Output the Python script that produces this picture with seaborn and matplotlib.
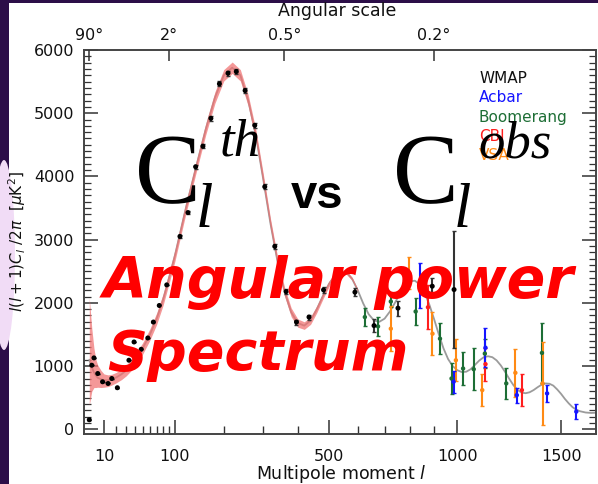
import numpy as np
import pandas as pd
import matplotlib
matplotlib.use("Agg")
import matplotlib.pyplot as plt
import seaborn as sns
from matplotlib.patches import Rectangle, Ellipse

# ---------------- data ----------------
theory_l = [2, 3, 4, 5, 6, 8, 10, 13, 16, 20, 25, 30, 40, 50, 60, 70, 80, 90, 100, 120, 140, 160,
            180, 200, 220, 240, 260, 280, 300, 320, 340, 360, 380, 400, 420, 440, 460, 480, 500,
            520, 540, 560, 580, 600, 620, 640, 660, 680, 700, 720, 740, 760, 780, 800, 820, 840,
            860, 880, 900, 920, 940, 960, 980, 1000, 1020, 1040, 1060, 1080, 1100, 1120, 1140,
            1160, 1180, 1200, 1220, 1240, 1260, 1280, 1300, 1320, 1340, 1360, 1380, 1400, 1420,
            1440, 1460, 1480, 1500, 1520, 1540, 1560, 1580, 1600, 1630, 1660, 1690]
theory_D = [1100, 980, 900, 850, 815, 790, 775, 775, 790, 820, 870, 930, 1080, 1280, 1500, 1750,
            2050, 2400, 2750, 3500, 4150, 4750, 5250, 5600, 5720, 5600, 5200, 4650, 3950, 3250,
            2650, 2180, 1850, 1680, 1640, 1720, 1900, 2110, 2300, 2430, 2490, 2480, 2380, 2200,
            1990, 1820, 1720, 1700, 1750, 1860, 2000, 2150, 2270, 2340, 2350, 2290, 2160, 1970,
            1740, 1500, 1280, 1110, 1000, 935, 905, 910, 950, 1020, 1090, 1140, 1155, 1140, 1090,
            1010, 910, 800, 700, 625, 580, 570, 585, 620, 665, 705, 725, 720, 690, 630, 560, 480,
            410, 350, 310, 285, 265, 258, 262]

band_l = [2, 3, 4, 5, 6, 8, 10, 13, 16, 20, 25, 30, 40, 50, 60, 70, 80, 90, 100, 120, 140, 160, 180,
          200, 220, 240, 260, 280, 300, 320, 340, 360, 380, 400, 420, 440, 460, 480, 500, 520, 540,
          560, 580, 600]
band_hi = [2080, 1600, 1280, 1100, 1015, 930, 875, 860, 870, 900, 955, 1015, 1170, 1370, 1590, 1840,
           2140, 2490, 2840, 3590, 4240, 4840, 5340, 5690, 5810, 5690, 5290, 4740, 4040, 3330, 2730,
           2250, 1920, 1745, 1700, 1780, 1955, 2160, 2345, 2470, 2525, 2510, 2405, 2220]
band_lo = [380, 600, 660, 660, 665, 660, 665, 675, 700, 735, 785, 845, 990, 1190, 1410, 1660, 1960,
           2310, 2660, 3410, 4060, 4660, 5160, 5510, 5630, 5510, 5110, 4560, 3860, 3170, 2570, 2110,
           1780, 1615, 1580, 1660, 1845, 2060, 2255, 2390, 2455, 2450, 2355, 2180]

wmap_l = [2, 3, 4, 6, 9, 13, 16, 21, 26, 33, 39, 48, 57, 65, 74, 86, 109, 124, 139, 154, 171, 190,
          210, 230, 252, 277, 304, 332, 365, 396, 435, 482, 590, 660, 752, 892, 986]
wmap_D = [150, 1013, 1129, 882, 751, 724, 803, 657, 972, 1092, 1381, 1265, 1444, 1696, 1958, 2284,
          3051, 3428, 4153, 4478, 4919, 5465, 5634, 5659, 5359, 4808, 3837, 2893, 2178, 1696, 1775,
          2205, 2169, 1640, 1916, 2263, 2210]
wmap_err = [0, 0, 0, 0, 0, 0, 0, 0, 0, 0, 0, 0, 0, 0, 0, 0, 25, 30, 30, 35, 35, 40, 40, 40, 40, 40,
            40, 40, 40, 40, 40, 50, 60, 100, 120, 130, 925]

acbar_l = [840, 984, 1128, 1277, 1428, 1580]
acbar_D = [2273, 751, 1290, 540, 567, 279]
acbar_err = [355, 170, 310, 120, 130, 120]

boom_l = [626, 675, 724, 823, 925, 975, 1026, 1074, 1125, 1226, 1402]
boom_D = [1775, 1627, 2021, 1863, 1433, 803, 961, 950, 1197, 725, 1208]
boom_err = [140, 145, 80, 210, 245, 240, 265, 330, 230, 240, 470]

cbi_l = [874, 1128, 1302]
cbi_D = [1930, 1030, 619]
cbi_err = [345, 260, 250]

vsa_l = [724, 797, 893, 994, 1113, 1270, 1405]
vsa_D = [1591, 2470, 1512, 1092, 619, 893, 725]
vsa_err = [355, 255, 340, 330, 250, 380, 660]

x_major = [10, 100, 500, 1000, 1500]
x_minor = [20, 30, 40, 50, 60, 70, 80, 90, 200, 300, 400, 600, 700, 800, 900]
top_ticks = [2, 90, 360, 900]
top_labels = ["90°", "2°", "0.5°", "0.2°"]
legend_names = ["WMAP", "Acbar", "Boomerang", "CBI", "VSA"]

# ---------------- style ----------------
sns.set_theme(style="white")
plt.rcParams["font.family"] = ["DejaVu Sans"]

W, H = 598, 484
fig = plt.figure(figsize=(W / 100, H / 100), dpi=100)
fig.patch.set_facecolor("#2c0e48")


def fx(x):
    return x / W


def fy(y):
    return 1 - y / H


fig.patches.append(Rectangle((fx(9), 0), 1 - fx(9), fy(2.5), transform=fig.transFigure,
                             facecolor="white", edgecolor="none", zorder=-2))
fig.patches.append(Ellipse((fx(4), fy(255)), 22 / W, 190 / H, transform=fig.transFigure,
                           facecolor="#f1dcf6", edgecolor="none", zorder=-1))

ax = fig.add_axes([fx(84), fy(434), 512 / W, 384 / H])
ax.set_facecolor("white")


def fwd(x):
    x = np.asarray(x, dtype=float)
    return np.sign(x) * np.abs(x) ** 0.6


def inv(x):
    x = np.asarray(x, dtype=float)
    return np.sign(x) * np.abs(x) ** (1 / 0.6)


ax.set_xscale("function", functions=(fwd, inv))

# theory line + band
sns.lineplot(x=theory_l, y=theory_D, ax=ax, color="#9b9b9b", lw=1.3, sort=False,
             estimator=None, zorder=1)
ax.fill_between(band_l, band_lo, band_hi, color="#f07070", alpha=0.72, lw=0, zorder=2)

cols = {"WMAP": "#111111", "Acbar": "#1515ff", "Boomerang": "#1d6e35",
        "CBI": "#ff1e1e", "VSA": "#ff8a14"}

sets = [("Boomerang", boom_l, boom_D, boom_err), ("VSA", vsa_l, vsa_D, vsa_err),
        ("CBI", cbi_l, cbi_D, cbi_err), ("Acbar", acbar_l, acbar_D, acbar_err)]
for name, ls, ds, es in sets:
    ax.errorbar(ls, ds, yerr=es, fmt="none", ecolor=cols[name], elinewidth=1.5,
                capsize=1.5, capthick=1.0, zorder=3)
    sns.scatterplot(x=ls, y=ds, ax=ax, color=cols[name], s=10, edgecolor="none", zorder=4)

ax.errorbar(wmap_l, wmap_D, yerr=wmap_err, fmt="none", ecolor="#333333", elinewidth=1.5,
            capsize=1.5, capthick=1.0, zorder=3)
sns.scatterplot(x=wmap_l, y=wmap_D, ax=ax, color="black", s=13, edgecolor="none", zorder=5)

ax.set_xlim(0.465, 1686)
ax.set_ylim(-75, 6000)
ax.set_xlabel("")
ax.set_ylabel("")

ax.set_xticks(x_major)
ax.set_xticklabels([str(v) for v in x_major])
ax.set_xticks(x_minor, minor=True)
ax.set_xticklabels([], minor=True)
ax.set_yticks(np.arange(0, 6001, 1000))
ax.set_yticks(np.arange(0, 6001, 100), minor=True)
ax.tick_params(axis="x", which="major", direction="in", length=10, width=1.1, pad=11,
               labelsize=11.5, colors="#333333", labelcolor="#111111", top=False)
ax.tick_params(axis="x", which="minor", direction="in", length=6, width=1.0, colors="#333333",
               top=False)
ax.tick_params(axis="y", which="major", direction="in", length=10, width=1.1, pad=7,
               labelsize=11.5, colors="#333333", labelcolor="#111111", right=True, left=True)
ax.tick_params(axis="y", which="minor", direction="in", length=5, width=0.9, colors="#333333",
               right=True, left=True)
for s in ax.spines.values():
    s.set_color("#444444")
    s.set_linewidth(1.4)

ax2 = ax.twiny()
ax2.set_xscale("function", functions=(fwd, inv))
ax2.set_xlim(ax.get_xlim())
ax2.set_xticks(top_ticks)
ax2.set_xticklabels(top_labels)
ax2.tick_params(axis="x", direction="in", length=8, width=1.1, pad=5, labelsize=11.5,
                colors="#333333", labelcolor="#111111")
ax2.xaxis.set_minor_locator(matplotlib.ticker.NullLocator())
for s in ax2.spines.values():
    s.set_visible(False)

# axis titles
fig.text(fx(337), fy(11), "Angular scale", ha="center", va="center", fontsize=12.5,
         color="#111111")
fig.text(fx(341), fy(474), r"Multipole moment $l$", ha="center", va="center", fontsize=12.5,
         color="#111111")
fig.text(fx(17), fy(242), r"$l(l+1)C_l\ /2\pi\ \ [\mu\mathrm{K}^2]$", ha="center",
         va="center", rotation=90, fontsize=11, color="#111111")

# legend text
ys = [83, 102.3, 121.6, 141, 160]
for name, yy in zip(legend_names, ys):
    fig.text(fx(479), fy(yy), name, ha="left", va="baseline", fontsize=11,
             color=cols[name], zorder=6)

# overlay formula
serif = ["Liberation Serif", "DejaVu Serif"]
fig.text(fx(135), fy(202), "C", fontsize=71, family=serif, ha="left", va="baseline",
         color="black", zorder=7)
fig.text(fx(196), fy(227), "l", fontsize=45, family=serif, style="italic", ha="left",
         va="baseline", color="black", zorder=7)
fig.text(fx(220), fy(155), "th", fontsize=38, family=serif, style="italic", ha="left",
         va="baseline", color="black", zorder=7)
fig.text(fx(291), fy(208), "vs", fontsize=34, family=["Liberation Sans", "DejaVu Sans"],
         weight="bold", ha="left", va="baseline", color="black", zorder=7)
fig.text(fx(393), fy(202), "C", fontsize=71, family=serif, ha="left", va="baseline",
         color="black", zorder=7)
fig.text(fx(454), fy(227), "l", fontsize=45, family=serif, style="italic", ha="left",
         va="baseline", color="black", zorder=7)
fig.text(fx(478), fy(157), "obs", fontsize=38, family=serif, style="italic", ha="left",
         va="baseline", color="black", zorder=7)

# red title
fig.text(fx(103), fy(298), "Angular power", fontsize=41, family=["DejaVu Sans"],
         weight="bold", style="oblique", ha="left", va="baseline", color="#ff0000", zorder=8)
fig.text(fx(107), fy(370), "Spectrum", fontsize=40, family=["DejaVu Sans"],
         weight="bold", style="oblique", ha="left", va="baseline", color="#ff0000", zorder=8)

fig.savefig("out.png", dpi=100, facecolor=fig.get_facecolor())
